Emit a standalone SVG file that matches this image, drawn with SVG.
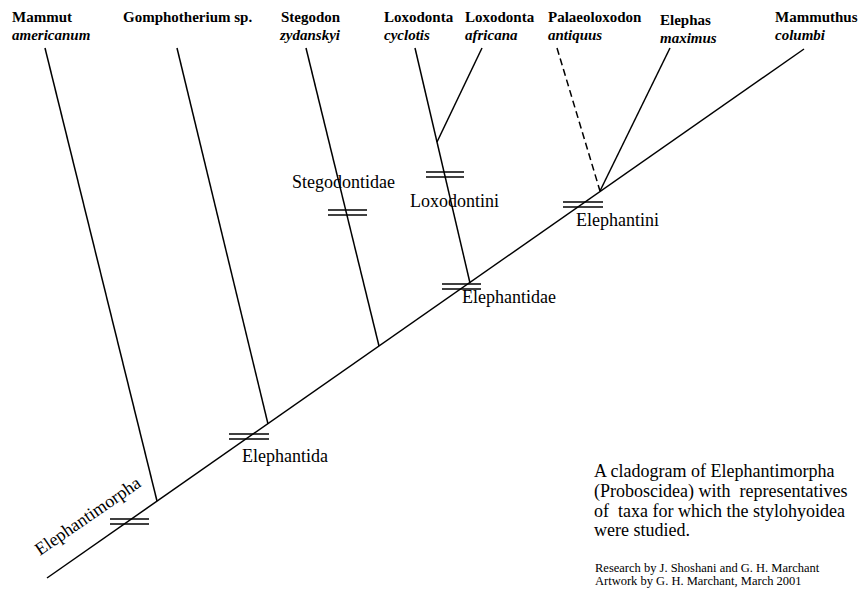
<svg xmlns="http://www.w3.org/2000/svg" width="861" height="589" viewBox="0 0 861 589">
<style>
.ln{stroke:#000;stroke-width:1.5;fill:none}
.dash{stroke-dasharray:7,4}
.bar{stroke:#000;stroke-width:1.6}
.tx{font-family:"Liberation Serif","Times New Roman",serif;fill:#000}
.tb{font-size:15px;font-weight:bold}
.ti{font-size:15px;font-weight:bold;font-style:italic}
.lb{font-size:18px}
.cap{font-size:18px}
.cr{font-size:12.5px}
</style>
<rect width="861" height="589" fill="#fff"/>
<g id="connectors">
<line class="ln" x1="47" y1="578" x2="804" y2="49"/>
<line class="ln" x1="45" y1="48" x2="157" y2="501"/>
<line class="ln" x1="177" y1="48" x2="268" y2="424"/>
<line class="ln" x1="306" y1="48" x2="379" y2="346"/>
<line class="ln" x1="415" y1="48" x2="470" y2="283"/>
<line class="ln" x1="482" y1="48" x2="437" y2="142"/>
<line class="ln dash" x1="557" y1="48" x2="600" y2="191"/>
<line class="ln" x1="670" y1="48" x2="600" y2="191"/>
</g>
<g id="bar-elephantimorpha"><line class="bar" x1="110" y1="519" x2="149" y2="519"/><line class="bar" x1="110" y1="524" x2="149" y2="524"/></g>
<g id="bar-elephantida"><line class="bar" x1="229" y1="434" x2="269" y2="434"/><line class="bar" x1="229" y1="439" x2="269" y2="439"/></g>
<g id="bar-stegodontidae"><line class="bar" x1="328" y1="210" x2="367" y2="210"/><line class="bar" x1="328" y1="215" x2="367" y2="215"/></g>
<g id="bar-loxodontini"><line class="bar" x1="426" y1="172" x2="464" y2="172"/><line class="bar" x1="426" y1="177" x2="464" y2="177"/></g>
<g id="bar-elephantidae"><line class="bar" x1="442" y1="284" x2="481" y2="284"/><line class="bar" x1="442" y1="289" x2="481" y2="289"/></g>
<g id="bar-elephantini"><line class="bar" x1="563" y1="202" x2="603" y2="202"/><line class="bar" x1="563" y1="207" x2="603" y2="207"/></g>
<g id="taxon-mammut"><text class="tx tb" x="12" y="22">Mammut</text><text class="tx ti" x="12" y="40">americanum</text></g>
<g id="taxon-gomphotherium"><text class="tx tb" x="123" y="22">Gomphotherium sp.</text></g>
<g id="taxon-stegodon"><text class="tx tb" x="281" y="22">Stegodon</text><text class="tx ti" x="280" y="40">zydanskyi</text></g>
<g id="taxon-loxodonta-cyclotis"><text class="tx tb" x="384" y="22">Loxodonta</text><text class="tx ti" x="384" y="40">cyclotis</text></g>
<g id="taxon-loxodonta-africana"><text class="tx tb" x="465" y="22">Loxodonta</text><text class="tx ti" x="465" y="40">africana</text></g>
<g id="taxon-palaeoloxodon"><text class="tx tb" x="548" y="22">Palaeoloxodon</text><text class="tx ti" x="548" y="40">antiquus</text></g>
<g id="taxon-elephas"><text class="tx tb" x="660" y="25">Elephas</text><text class="tx ti" x="660" y="43">maximus</text></g>
<g id="taxon-mammuthus"><text class="tx tb" x="775" y="22">Mammuthus</text><text class="tx ti" x="775" y="40">columbi</text></g>
<g id="label-elephantimorpha"><text class="tx lb" transform="translate(40,556) rotate(-34.5)">Elephantimorpha</text></g>
<g id="label-elephantida"><text class="tx lb" x="242" y="462">Elephantida</text></g>
<g id="label-stegodontidae"><text class="tx lb" x="292" y="188">Stegodontidae</text></g>
<g id="label-loxodontini"><text class="tx lb" x="410" y="207">Loxodontini</text></g>
<g id="label-elephantidae"><text class="tx lb" x="462" y="303">Elephantidae</text></g>
<g id="label-elephantini"><text class="tx lb" x="576" y="226">Elephantini</text></g>
<g id="caption">
<text class="tx cap" x="594" y="477">A cladogram of Elephantimorpha</text>
<text class="tx cap" x="594" y="497" xml:space="preserve">(Proboscidea) with  representatives</text>
<text class="tx cap" x="594" y="517" xml:space="preserve">of  taxa for which the stylohyoidea</text>
<text class="tx cap" x="594" y="536">were studied.</text>
<text class="tx cr" x="595" y="572">Research by J. Shoshani and G. H. Marchant</text>
<text class="tx cr" x="595" y="585">Artwork by G. H. Marchant, March 2001</text>
</g>
</svg>
